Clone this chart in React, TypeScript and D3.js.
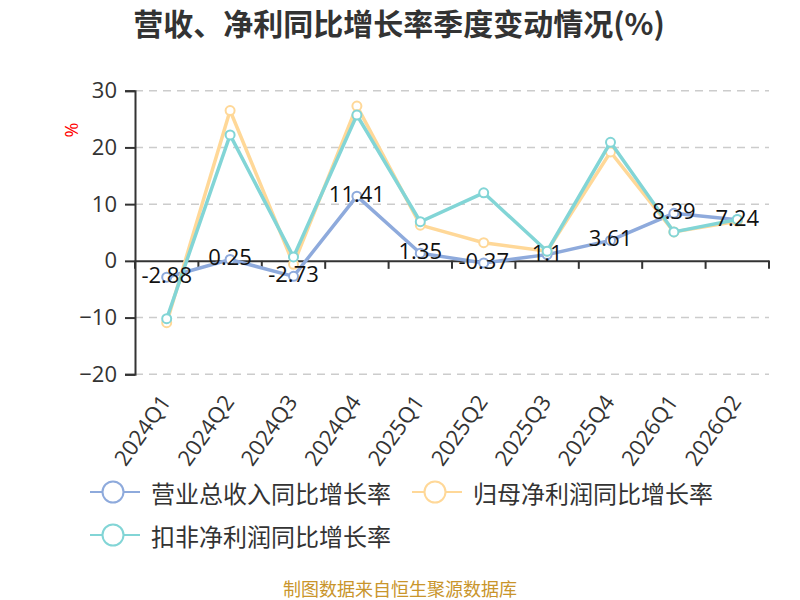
import * as React from 'react';
import * as d3 from 'd3';

const quarters = ['2024Q1', '2024Q2', '2024Q3', '2024Q4', '2025Q1', '2025Q2', '2025Q3', '2025Q4', '2026Q1', '2026Q2'];
const revenueGrowth = [-2.88, 0.25, -2.73, 11.41, 1.35, -0.37, 1.1, 3.61, 8.39, 7.24];
const netProfitGrowth = [-10.9, 26.5, -0.6, 27.3, 6.3, 3.2, 1.7, 19.2, 5.1, 7.0];
const deductedProfitGrowth = [-10.2, 22.2, 0.7, 25.7, 6.9, 12.0, 1.7, 20.9, 5.1, 7.3];
const yTicks = [-20, -10, 0, 10, 20, 30];
const seriesNames = ['营业总收入同比增长率', '归母净利润同比增长率', '扣非净利润同比增长率'];
const seriesColors = ['#8eaadc', '#ffd898', '#82d5d6'];

const CJK = '"Noto Sans CJK SC", "Noto Sans", sans-serif';
const NUM = '"Open Sans", "Noto Sans CJK SC", sans-serif';

const App = () => {
    const ref = React.useRef<SVGSVGElement>(null);

    React.useEffect(() => {
        const svg = d3.select(ref.current);
        svg.selectAll('*').remove();

        const left = 135, right = 769, top = 90.7, bottom = 374.3;

        const x = d3.scaleBand().domain(quarters).range([left, right]);
        const y = d3.scaleLinear().domain([-20, 30]).range([bottom, top]);
        const cx = (d, i) => x(quarters[i]) + x.bandwidth() / 2;

        // title
        svg.append('text')
            .attr('x', 399)
            .attr('y', 35)
            .attr('text-anchor', 'middle')
            .style('font-size', '30px')
            .style('font-weight', 'bold')
            .style('font-family', CJK)
            .style('fill', '#333')
            .text('营收、净利同比增长率季度变动情况(%)');

        // unit
        svg.append('text')
            .attr('transform', 'translate(78,130) rotate(-90)')
            .attr('text-anchor', 'middle')
            .style('font-size', '18px')
            .style('font-family', NUM)
            .style('fill', 'red')
            .text('%');

        // grid
        svg.append('g')
            .selectAll('line')
            .data(yTicks.filter(t => t !== 0))
            .enter()
            .append('line')
            .attr('x1', left)
            .attr('x2', right)
            .attr('y1', d => y(d))
            .attr('y2', d => y(d))
            .style('stroke', '#ccc')
            .style('stroke-width', 1.5)
            .style('stroke-dasharray', '8,6');

        // y axis
        const yAxis = svg.append('g')
            .attr('transform', 'translate(' + left + ',0)')
            .call(d3.axisLeft(y).tickValues(yTicks).tickSize(10).tickPadding(8));
        yAxis.select('.domain').style('stroke', '#333').style('stroke-width', 2);
        yAxis.selectAll('.tick line').style('stroke', '#333').style('stroke-width', 2);
        yAxis.selectAll('.tick text')
            .style('font-size', '22px')
            .style('font-family', NUM)
            .style('fill', '#333');

        // x axis on zero
        const xAxis = svg.append('g')
            .attr('transform', 'translate(0,' + y(0) + ')')
            .call(d3.axisBottom(x).tickSize(0).tickFormat(() => ''));
        xAxis.select('.domain').style('stroke', '#333').style('stroke-width', 2);
        xAxis.selectAll('.bandtick')
            .data(d3.range(quarters.length + 1))
            .enter()
            .append('line')
            .attr('x1', i => left + i * x.bandwidth())
            .attr('x2', i => left + i * x.bandwidth())
            .attr('y1', 0)
            .attr('y2', 8)
            .style('stroke', '#333')
            .style('stroke-width', 2);

        // x labels at the bottom
        svg.append('g')
            .selectAll('text')
            .data(quarters)
            .enter()
            .append('text')
            .attr('transform', (d, i) => 'translate(' + (cx(d, i) + 5) + ',' + 402 + ') rotate(-55)')
            .attr('text-anchor', 'end')
            .style('font-size', '22px')
            .style('font-family', NUM)
            .style('fill', '#333')
            .text(d => d);

        // series
        const allSeries = [revenueGrowth, netProfitGrowth, deductedProfitGrowth];
        const line = d3.line<number>().x((d, i) => cx(d, i)).y(d => y(d));
        allSeries.forEach((values, s) => {
            const g = svg.append('g');
            g.append('path')
                .datum(values)
                .attr('d', line)
                .style('fill', 'none')
                .style('stroke', seriesColors[s])
                .style('stroke-width', 3.5);
            g.selectAll('circle')
                .data(values)
                .enter()
                .append('circle')
                .attr('cx', (d, i) => cx(d, i))
                .attr('cy', d => y(d))
                .attr('r', 4.5)
                .style('fill', '#fff')
                .style('stroke', seriesColors[s])
                .style('stroke-width', 2);
        });

        // value labels for revenue
        svg.append('g')
            .selectAll('text')
            .data(revenueGrowth)
            .enter()
            .append('text')
            .attr('x', (d, i) => cx(d, i))
            .attr('y', d => y(d) - 3)
            .attr('text-anchor', 'middle')
            .attr('dominant-baseline', 'central')
            .style('font-size', '22px')
            .style('font-family', NUM)
            .style('fill', '#111')
            .text(d => String(d));

        // legend
        const legendPos = [[90, 492], [412, 492], [90, 535]];
        seriesNames.forEach((name, s) => {
            const [lx, ly] = legendPos[s];
            const g = svg.append('g').attr('transform', 'translate(' + lx + ',' + ly + ')');
            g.append('line')
                .attr('x1', 0).attr('x2', 50).attr('y1', 0).attr('y2', 0)
                .style('stroke', seriesColors[s])
                .style('stroke-width', 2);
            g.append('circle')
                .attr('cx', 23).attr('cy', 0).attr('r', 10.5)
                .style('fill', '#fff')
                .style('stroke', seriesColors[s])
                .style('stroke-width', 2);
            g.append('text')
                .attr('x', 61)
                .attr('y', 0)
                .attr('dominant-baseline', 'central')
                .style('font-size', '24px')
                .style('font-family', CJK)
                .style('fill', '#333')
                .text(name);
        });

        // footer
        svg.append('text')
            .attr('x', 400)
            .attr('y', 588)
            .attr('text-anchor', 'middle')
            .attr('dominant-baseline', 'central')
            .style('font-size', '18px')
            .style('font-family', CJK)
            .style('fill', '#c9952b')
            .text('制图数据来自恒生聚源数据库');
    }, []);

    return (
        <svg ref={ref} width={800} height={600}
            style={{ position: 'absolute', left: 0, top: 0, fontFamily: CJK, background: '#fff' }} />
    );
};

export default App;
